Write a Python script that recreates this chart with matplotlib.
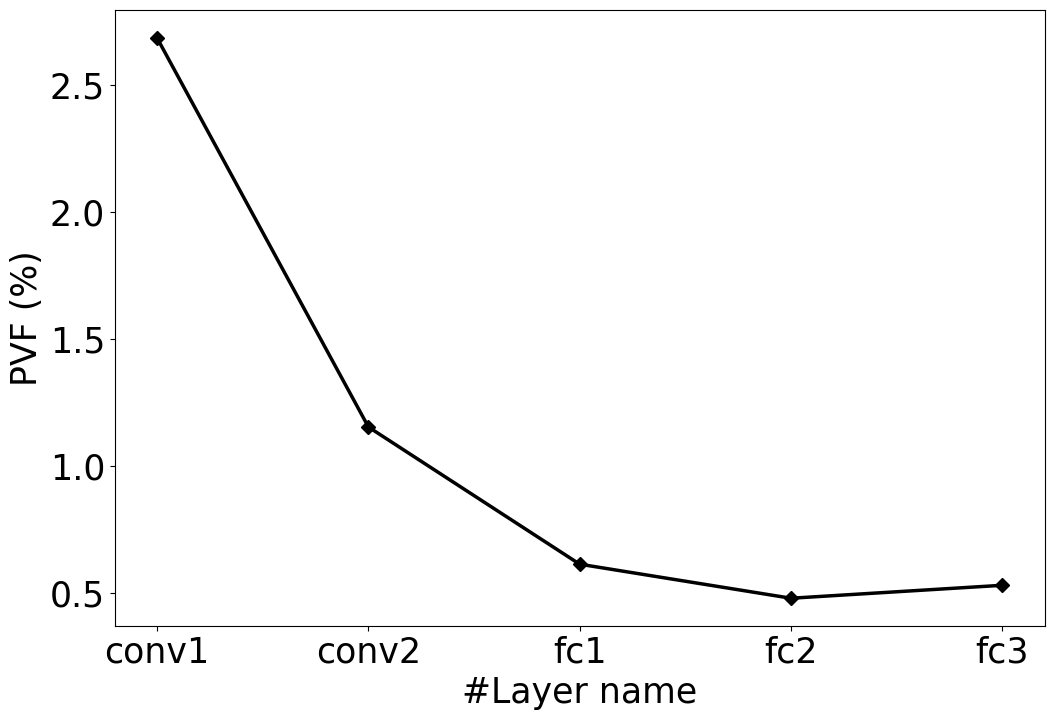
import matplotlib
matplotlib.use('Agg')
import matplotlib.pyplot as plt

# Layer names and PVF values
layers = ['conv1', 'conv2', 'fc1', 'fc2', 'fc3']
pvf = [2.685, 1.154, 0.614, 0.480, 0.531]

fig, ax = plt.subplots(figsize=(10.54, 7.19), dpi=100)
fig.subplots_adjust(left=0.109, right=0.991, top=0.986, bottom=0.129)

ax.plot(layers, pvf, color='black', marker='D', markersize=7, linewidth=2.5)

ax.set_xlabel('#Layer name', fontsize=25)
ax.set_ylabel('PVF (%)', fontsize=25)
ax.tick_params(axis='both', labelsize=25)

fig.savefig('out.png', dpi=100)
